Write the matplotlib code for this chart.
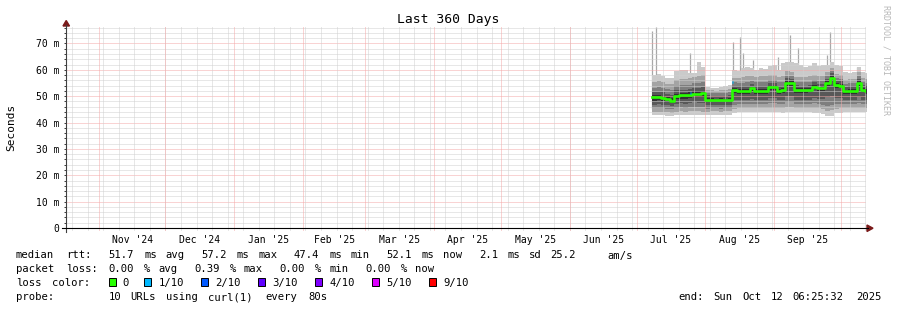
import re

import matplotlib
matplotlib.use('Agg')
import matplotlib.pyplot as plt
import numpy as np
import pandas as pd
from matplotlib.lines import Line2D
from matplotlib.patches import Polygon, Rectangle

# %% Data: smokeping style summary, one value per two-day bin (ms).
bin_start = '2025-07-08'
median = [49.5, 49.6, 49.3, 48.8, 48.3, 50.2, 50.4, 50.3, 50.6, 51.0, 51.0, 51.2,
          48.6, 48.5, 48.4, 48.5, 48.4, 48.6,
          52.3, 52.0, 52.0, 52.0, 52.9, 52.0, 52.0, 52.0, 53.3, 53.3, 52.0, 52.2,
          55.1, 55.0, 52.3, 52.3, 52.3, 52.4, 53.6, 52.9, 53.0, 55.0, 57.0, 54.2,
          54.0, 51.8, 52.0, 52.0, 55.0, 52.4, 52.0]
ping1 = [42.8, 42.9, 42.8, 42.6, 42.5, 42.8, 42.9, 42.8, 42.9, 43.0, 42.9, 42.8,
         42.8, 42.8, 42.9, 42.8, 42.8, 42.9,
         43.5, 43.8, 43.9, 43.8, 43.8, 43.9, 43.8, 43.9, 43.8, 43.9, 43.8, 43.7,
         43.8, 43.9, 43.8, 43.9, 43.8, 43.8, 43.7, 43.6, 43.2, 42.4, 42.6, 43.5,
         43.7, 43.8, 43.9, 43.8, 43.8, 43.9, 43.8]
ping2 = [44.0, 44.1, 44.0, 43.8, 43.7, 44.1, 44.2, 44.1, 44.2, 44.3, 44.2, 44.1,
         44.1, 44.2, 44.2, 44.1, 44.2, 44.3,
         45.0, 45.4, 45.5, 45.4, 45.5, 45.5, 45.4, 45.5, 45.6, 45.6, 45.4, 45.4,
         45.8, 45.8, 45.5, 45.5, 45.4, 45.5, 45.6, 45.4, 45.0, 44.4, 44.6, 45.3,
         45.4, 45.4, 45.5, 45.4, 45.6, 45.5, 45.4]
ping3 = [45.4, 45.5, 45.4, 45.2, 45.0, 45.6, 45.7, 45.6, 45.8, 45.9, 45.8, 45.7,
         45.3, 45.4, 45.4, 45.3, 45.4, 45.5,
         46.6, 47.0, 47.1, 47.0, 47.2, 47.1, 47.0, 47.1, 47.3, 47.3, 47.0, 47.0,
         47.6, 47.6, 47.1, 47.1, 47.0, 47.1, 47.3, 47.0, 46.8, 46.4, 46.8, 47.1,
         47.1, 47.0, 47.1, 47.0, 47.4, 47.1, 47.0]
ping4 = [46.8, 46.9, 46.7, 46.5, 46.3, 47.2, 47.3, 47.2, 47.4, 47.6, 47.5, 47.5,
         46.5, 46.6, 46.6, 46.5, 46.6, 46.7,
         48.4, 48.6, 48.7, 48.6, 49.0, 48.7, 48.6, 48.7, 49.2, 49.2, 48.6, 48.7,
         50.0, 49.9, 48.7, 48.7, 48.6, 48.7, 49.2, 48.8, 48.8, 49.5, 50.2, 49.4,
         49.3, 48.5, 48.6, 48.6, 49.6, 48.7, 48.6]
ping5 = [48.3, 48.4, 48.2, 47.8, 47.4, 48.8, 49.0, 48.9, 49.2, 49.6, 49.6, 49.8,
         47.8, 47.8, 47.7, 47.8, 47.7, 47.9,
         51.3, 51.0, 51.0, 51.0, 51.9, 51.0, 51.0, 51.0, 52.3, 52.3, 51.0, 51.2,
         54.0, 53.9, 51.3, 51.3, 51.3, 51.4, 52.6, 51.9, 52.0, 53.9, 55.8, 53.2,
         53.0, 50.8, 51.0, 51.0, 53.9, 51.4, 51.0]
ping6 = [50.3, 50.4, 50.1, 49.6, 49.2, 51.0, 51.2, 51.1, 51.4, 51.8, 51.8, 52.0,
         49.3, 49.2, 49.1, 49.2, 49.1, 49.3,
         53.0, 52.7, 52.7, 52.7, 53.6, 52.7, 52.7, 52.7, 54.0, 54.0, 52.7, 52.9,
         55.8, 55.7, 53.0, 53.0, 53.0, 53.1, 54.3, 53.6, 53.7, 55.7, 57.7, 54.9,
         54.7, 52.5, 52.7, 52.7, 55.7, 53.1, 52.7]
ping7 = [51.6, 51.7, 51.4, 51.0, 50.6, 52.3, 52.5, 52.4, 52.7, 53.1, 53.1, 53.3,
         50.3, 50.2, 50.1, 50.2, 50.2, 50.4,
         54.0, 53.8, 53.8, 53.9, 54.6, 53.9, 53.9, 54.0, 55.0, 55.0, 53.9, 54.0,
         56.8, 56.6, 54.1, 54.0, 54.0, 54.2, 55.2, 54.6, 54.7, 56.6, 58.6, 55.8,
         55.6, 53.5, 53.7, 53.8, 56.6, 54.1, 53.7]
ping8 = [53.2, 53.4, 53.0, 52.6, 52.3, 54.0, 54.2, 54.1, 54.4, 54.8, 54.9, 55.2,
         51.3, 51.2, 51.1, 51.2, 51.3, 51.5,
         55.2, 55.0, 55.1, 55.2, 55.8, 55.2, 55.3, 55.4, 56.2, 56.2, 55.2, 55.3,
         57.8, 57.6, 55.4, 55.3, 55.3, 55.5, 56.3, 55.8, 55.9, 57.6, 59.4, 56.9,
         56.6, 54.6, 54.8, 54.9, 57.5, 55.2, 54.8]
ping9 = [55.5, 55.8, 55.2, 54.6, 54.5, 56.3, 56.6, 56.4, 56.8, 57.2, 57.6, 58.0,
         52.3, 52.2, 52.1, 52.3, 52.4, 52.7,
         57.0, 56.8, 57.2, 57.5, 57.8, 57.4, 57.6, 57.6, 58.0, 58.2, 57.4, 57.6,
         59.4, 59.2, 57.4, 57.3, 57.2, 57.6, 58.0, 57.5, 57.6, 59.0, 60.5, 58.4,
         58.0, 56.2, 56.5, 56.6, 59.0, 56.9, 56.4]
ping10 = [58.2, 58.5, 57.8, 57.0, 56.8, 59.5, 60.0, 59.8, 58.8, 58.6, 63.0, 61.2,
          53.4, 53.2, 53.0, 53.3, 53.8, 54.3,
          60.0, 59.5, 60.5, 61.0, 60.5, 59.8, 60.5, 60.2, 61.5, 62.0, 59.8, 62.5,
          63.0, 63.0, 62.5, 62.0, 61.0, 61.5, 62.4, 61.5, 61.8, 62.0, 62.8, 62.0,
          61.5, 59.0, 58.8, 59.0, 61.0, 59.0, 58.6]

spike_dates = ['2025-07-08 04:00', '2025-07-09 19:00', '2025-07-25 02:00',
               '2025-08-13 10:00', '2025-08-16 14:00', '2025-08-17 22:00',
               '2025-08-22 10:00', '2025-09-02 17:00', '2025-09-08 02:00',
               '2025-09-11 17:00', '2025-09-24 19:00', '2025-09-26 02:00',
               '2025-10-08 07:00']
spike_ms = [74.8, 76.3, 66.2, 70.6, 72.5, 66.2, 63.7, 64.9, 73.1, 68.1, 65.6, 74.4, 61.1]

loss_dates = ['2025-07-25', '2025-08-13']
loss_ms = [51.3, 55.4]

loss_labels = ['0', '1/10', '2/10', '3/10', '4/10', '5/10', '9/10']
loss_colors = ['#26ff00', '#00b8ff', '#0059ff', '#5e00ff', '#7e00ff', '#dd00ff', '#ff0000']

y_ticks = [0, 10, 20, 30, 40, 50, 60, 70]

legend_lines = [
    'median rtt:  51.7 ms avg  57.2 ms max  47.4 ms min  52.1 ms now  2.1 ms sd 25.2    am/s',
    'packet loss: 0.00 % avg  0.39 % max  0.00 % min  0.00 % now',
    'loss color:',
    'probe:       10 URLs using curl(1) every 80s',
]
end_text = 'end: Sun Oct 12 06:25:32 2025'

t0 = pd.Timestamp('2024-10-17 06:25:32')
t1 = pd.Timestamp('2025-10-12 06:25:32')

# %% Figure.
W, H = 897, 310
MONO = 'DejaVu Sans Mono'
CW = 7.12  # legend character pitch, px


def fx(x):
    return x / W


def fy(y):
    return 1 - y / H


fig = plt.figure(figsize=(W / 100, H / 100), dpi=100, facecolor='white')
ax = fig.add_axes([fx(66), fy(228), 800 / W, (228 - 26) / H])
ax.set_facecolor('white')
for s in ax.spines.values():
    s.set_visible(False)

# smoke
dates = pd.date_range(bin_start, periods=len(median), freq='2D')
xs = list(dates) + [dates[-1] + pd.Timedelta(days=2)]


def ext(v):
    return list(v) + [v[-1]]


spikes_x = pd.to_datetime(spike_dates)
ax.vlines(spikes_x, 45, spike_ms, colors='#a8a8a8', linewidth=0.9, zorder=1)

bands = [(ping1, ping10, '#cacaca'), (ping2, ping9, '#a4a4a4'), (ping3, ping8, '#7e7e7e'),
         (ping4, ping7, '#585858'), (ping5, ping6, '#323232')]
for lo, hi, col in bands:
    ax.fill_between(xs, ext(lo), ext(hi), step='post', color=col, linewidth=0, zorder=2)

# grid, rrdtool style dotted
grid_kw = dict(linestyle=(0, (1, 1)), linewidth=0.72, zorder=3, clip_on=False)
minor_col, major_col = '#d0d0d0', '#f5a8a8'
for v in np.arange(2, 76.6, 2):
    ax.axhline(v, color=major_col if round(v) % 10 == 0 else minor_col, **grid_kw)
for d in pd.date_range(t0, t1, freq='W-SUN', normalize=True):
    ax.axvline(d, ymin=-0.012, color=minor_col, **grid_kw)
months = pd.date_range(t0.normalize() - pd.offsets.MonthBegin(1), t1 + pd.offsets.MonthBegin(1),
                       freq='MS')
for d in months:
    if t0 < d < t1:
        ax.axvline(d, ymin=-0.012, color=major_col, **grid_kw)

# median
ax.step(xs, ext(median), where='post', color='#202020', linewidth=0.8, zorder=4)
ax.step(xs, ext(median), where='post', color=loss_colors[0], linewidth=1.9, zorder=5)
loss_x = pd.to_datetime(loss_dates)
ax.hlines(loss_ms, loss_x, loss_x + pd.Timedelta(hours=12), colors=loss_colors[1],
          linewidth=1.9, zorder=6)

# ticks
ax.set_yticks(y_ticks, labels=['0'] + [f'{v} m' for v in y_ticks[1:]])
ax.set_yticks(np.arange(2, 76.6, 2), minor=True)
ax.tick_params(axis='y', which='both', length=1.6, width=0.72, color='#404040', pad=3.4,
               labelsize=7, labelfontfamily=MONO)
mids = [a + (b - a) / 2 for a, b in zip(months[:-1], months[1:])]
mids = [m for m in mids if t0 < m < t1]
ax.set_xticks(mids, labels=[m.strftime("%b '%y") for m in mids])
ax.tick_params(axis='x', which='both', length=0, pad=5, labelsize=7, labelfontfamily=MONO)
ax.set_xlim(t0, t1)
ax.set_ylim(0, 76.6)

# axes lines and arrows
fig.add_artist(Line2D([fx(66), fx(66)], [fy(232), fy(25)], color='#404040', linewidth=0.8))
fig.add_artist(Line2D([fx(62), fx(868)], [fy(228), fy(228)], color='black', linewidth=0.8))
fig.add_artist(Polygon([[fx(63), fy(26)], [fx(69.5), fy(26)], [fx(66.2), fy(20.5)]],
                       closed=True, color='#7a1a1a'))
fig.add_artist(Polygon([[fx(867), fy(225)], [fx(867), fy(231.5)], [fx(873), fy(228.2)]],
                       closed=True, color='#7a1a1a'))

# texts
fig.text(fx(448.5), fy(19.5), 'Last 360 Days', family=MONO, fontsize=9.4, ha='center',
         va='center')
fig.text(fx(11), fy(127), 'Seconds', family=MONO, fontsize=8, rotation=90, ha='center',
         va='center')
fig.text(fx(886), fy(5), 'RRDTOOL / TOBI OETIKER', family=MONO, fontsize=6, rotation=270,
         ha='center', va='top', color='#b8b8b8')


def put_words(line, x0, y):
    for m in re.finditer(r'\S+', line):
        fig.text(fx(x0 + m.start() * CW), fy(y), m.group(), family=MONO, fontsize=7.6,
                 ha='left', va='baseline')


baselines = [258.5, 272.3, 286.0, 300.0]
for line, yb in zip(legend_lines, baselines):
    put_words(line, 16, yb)

col = 13
for lab, c in zip(loss_labels, loss_colors):
    fig.add_artist(Rectangle((fx(16 + col * CW), fy(285.7)), 7.3 / W, 7.6 / H,
                             facecolor=c, edgecolor='black', linewidth=0.7))
    put_words(lab, 16 + (col + 2) * CW, baselines[2])
    col += 2 + len(lab) + 2

put_words(end_text, 881 - len(end_text) * 7.0, baselines[3])

fig.savefig('out.png', dpi=100, facecolor='white')
